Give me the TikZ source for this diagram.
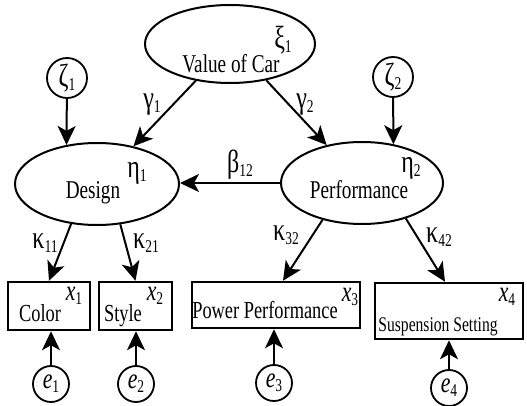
\documentclass[tikz,border=0pt]{standalone}
\usepackage{fontspec}
\setmainfont{Liberation Serif}[FakeStretch=0.75]
\usetikzlibrary{arrows.meta,shapes.geometric}
\newcommand{\gs}[2]{{\fontsize{32}{32}\selectfont #1}\raisebox{-4pt}{\fontsize{18}{18}\selectfont #2}}
\newcommand{\vs}[2]{{\fontsize{29}{29}\selectfont\itshape #1}\raisebox{-4pt}{\fontsize{18}{18}\selectfont #2}}
\begin{document}
\begin{tikzpicture}[x=1pt,y=-1pt,
  lat/.style={draw, ellipse, line width=2pt, inner sep=0pt},
  err/.style={draw, circle, line width=1.8pt, inner sep=0pt},
  obs/.style={draw, rectangle, line width=2.5pt, inner sep=0pt},
  arr/.style={-{Stealth[length=19pt,width=18pt,inset=5pt]}, line width=2pt},
  lbl/.style={inner sep=0pt, anchor=base},
  glb/.style={inner sep=0pt, anchor=center},
  big/.style={font=\fontsize{25.6}{25.6}\selectfont},
  med/.style={font=\fontsize{24.5}{24.5}\selectfont},
  sml/.style={font=\fontsize{20.8}{20.8}\selectfont}]
\useasboundingbox (0,0) rectangle (527,406);

% latent variables
\node[lat, minimum width=170pt, minimum height=78pt] (voc) at (230,44) {};
\node[lat, minimum width=164pt, minimum height=82pt] (design) at (97,184) {};
\node[lat, minimum width=162pt, minimum height=82pt] (perf) at (362,183) {};
\node[lbl, big] (tvoc) at (231,73) {Value of Car};
\node[lbl, big] (tdesign) at (93,199) {Design};
\node[lbl, big] (tperf) at (359,198) {Performance};
\node[glb] (xi1) at (283,40) {\gs{ξ}{1}};
\node[glb] (eta1) at (137,173) {\gs{η}{1}};
\node[glb] (eta2) at (411,168) {\gs{η}{2}};

% disturbances
\node[err, minimum size=40pt] (z1) at (67,78) {\gs{ζ}{1}};
\node[err, minimum size=40pt] (z2) at (393,77) {\gs{ζ}{2}};

% observed variables
\node[obs, minimum width=82pt, minimum height=48pt] (color) at (49,306) {};
\node[obs, minimum width=73pt, minimum height=48pt] (style) at (135.5,306) {};
\node[obs, minimum width=168pt, minimum height=46pt] (pp) at (276,305) {};
\node[obs, minimum width=148pt, minimum height=56pt] (ss) at (449,311) {};
\node[lbl, med] (tcolor) at (40,321) {Color};
\node[lbl, med] (tstyle) at (123,321) {Style};
\node[lbl, med] (tpp) at (265,318) {Power Performance};
\node[lbl, sml] (tss) at (438,331) {Suspension Setting};
\node[glb] (x1) at (74,296) {\vs{x}{1}};
\node[glb] (x2) at (155,296) {\vs{x}{2}};
\node[glb] (x3) at (350,297) {\vs{x}{3}};
\node[glb] (x4) at (507,297) {\vs{x}{4}};

% errors
\node[err, minimum size=36pt] (e1) at (51,384) {\vs{e}{1}};
\node[err, minimum size=36pt] (e2) at (136,384) {\vs{e}{2}};
\node[err, minimum size=36pt] (e3) at (274,383) {\vs{e}{3}};
\node[err, minimum size=36pt] (e4) at (449,388) {\vs{e}{4}};

% path labels
\node[glb] (g1) at (152,105) {\gs{γ}{1}};
\node[glb] (g2) at (305,105) {\gs{γ}{2}};
\node[glb] (b12) at (240,165) {\gs{β}{12}};
\node[glb] (k11) at (45,243) {\gs{κ}{11}};
\node[glb] (k21) at (146,243) {\gs{κ}{21}};
\node[glb] (k32) at (286,235) {\gs{κ}{32}};
\node[glb] (k42) at (439,237) {\gs{κ}{42}};

% connectors
\draw[arr] (voc.227) -- (design.46);
\draw[arr] (voc.315) -- (perf.133);
\draw[arr] (z1) -- (design.128);
\draw[arr] (z2) -- (perf.51);
\draw[arr] (perf.west) -- (perf.west -| design.east);
\draw[arr] (design.237) -- (color.north);
\draw[arr] (design.300) -- (style.north);
\draw[arr] (perf.223) -- ([xshift=7pt]pp.north);
\draw[arr] (perf.321) -- ([xshift=-4pt]ss.north);
\draw[arr] (e1) -- (e1 |- color.south);
\draw[arr] (e2) -- (e2 |- style.south);
\draw[arr] (e3) -- (e3 |- pp.south);
\draw[arr] (e4) -- (e4 |- ss.south);
\end{tikzpicture}
\end{document}
